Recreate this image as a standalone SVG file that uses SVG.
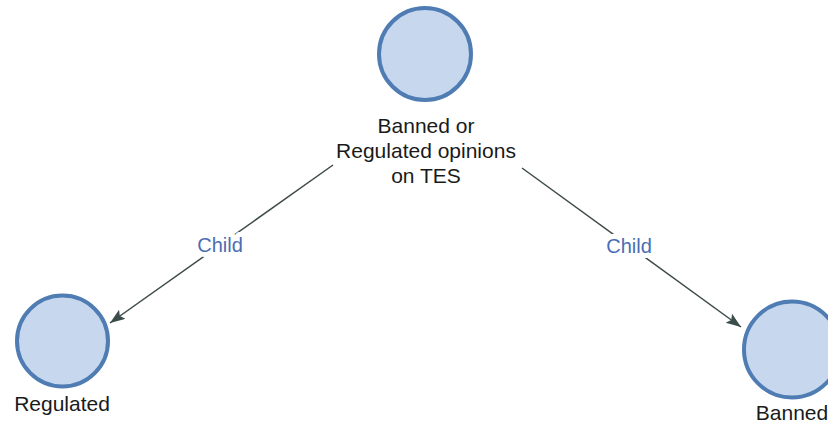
<svg xmlns="http://www.w3.org/2000/svg" width="828" height="426" viewBox="0 0 828 426">
<defs>
<style>
.node circle{fill:#c7d8ee;stroke:#4f7db3;stroke-width:4}
.lbl{font-family:"Liberation Sans",Arial,sans-serif;font-size:21px;fill:#1a1a1a;text-anchor:middle}
.edge line{stroke:#3f4a4a;stroke-width:1.5}
.elbl{font-family:"Liberation Sans",Arial,sans-serif;font-size:20px;fill:#4a6db3;text-anchor:middle;stroke:#ffffff;stroke-width:10px;paint-order:stroke;stroke-linejoin:round}
</style>
<marker id="arr" markerUnits="userSpaceOnUse" markerWidth="16" markerHeight="12" refX="15" refY="5.5" orient="auto">
<path d="M0,0 L15,5.5 L0,11 L3,5.5 z" fill="#3a4d4a"/>
</marker>
</defs>
<rect width="828" height="426" fill="#ffffff"/>
<g id="connectors">
<g class="edge" id="e1">
<line x1="333" y1="165" x2="110" y2="323" marker-end="url(#arr)"/>
<text class="elbl" x="220" y="252">Child</text>
</g>
<g class="edge" id="e2">
<line x1="522" y1="168" x2="741" y2="327" marker-end="url(#arr)"/>
<text class="elbl" x="629" y="253">Child</text>
</g>
</g>
<g class="node" id="n-root">
<circle cx="425" cy="54" r="46"/>
<text class="lbl" x="426" y="133">Banned or</text>
<text class="lbl" x="426" y="158">Regulated opinions</text>
<text class="lbl" x="426" y="183">on TES</text>
</g>
<g class="node" id="n-regulated">
<circle cx="62.5" cy="341" r="45.5"/>
<text class="lbl" x="62" y="411">Regulated</text>
</g>
<g class="node" id="n-banned">
<circle cx="792" cy="349.5" r="48"/>
<text class="lbl" x="792" y="420">Banned</text>
</g>
</svg>
